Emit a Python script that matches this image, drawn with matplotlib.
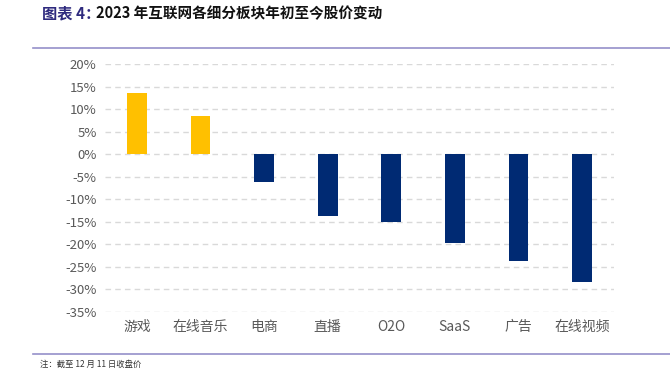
import matplotlib.pyplot as plt
from matplotlib.lines import Line2D

plt.rcParams['font.family'] = ['Noto Sans CJK SC', 'DejaVu Sans']

categories = ['游戏', '在线音乐', '电商', '直播', 'O2O', 'SaaS', '广告', '在线视频']
changes = [13.6, 8.4, -6.2, -13.6, -15.0, -19.6, -23.8, -28.3]
yticks = [20, 15, 10, 5, 0, -5, -10, -15, -20, -25, -30, -35]

colors = ['#FFC000' if v > 0 else '#002A73' for v in changes]

fig = plt.figure(figsize=(6.7, 3.71), dpi=100)
ax = fig.add_axes([105 / 670, 1 - 312 / 371, 509 / 670, 248 / 371])

x = range(len(categories))
ax.bar(x, changes, width=0.31, color=colors, zorder=3)

ax.set_ylim(-35, 20)
ax.set_xlim(-0.5, len(categories) - 0.5)
ax.set_yticks(yticks)
ax.set_yticklabels([f'{t}%' for t in yticks], fontsize=9.5, color='#595959')
ax.set_xticks(list(x))
ax.set_xticklabels(categories, fontsize=10, color='#595959')
ax.tick_params(length=0, pad=6)
ax.yaxis.grid(True, linestyle=(0, (4, 3)), color='#D9D9D9', linewidth=1)
for s in ax.spines.values():
    s.set_visible(False)

# title and frame lines
fig.text(42 / 670, 1 - 13 / 371, '图表 4：', fontsize=11, fontweight='bold',
         color='#2E2A7E', va='center', ha='left')
fig.text(96 / 670, 1 - 13 / 371, '2023 年互联网各细分板块年初至今股价变动', fontsize=10.5,
         fontweight='bold', color='#111111', va='center', ha='left')
fig.add_artist(Line2D([33 / 670, 1], [1 - 48 / 371] * 2, color='#9590C9', linewidth=1.2))
fig.add_artist(Line2D([33 / 670, 1], [1 - 354 / 371] * 2, color='#9590C9', linewidth=1.2))
fig.text(40 / 670, 1 - 364 / 371, '注：截至 12 月 11 日收盘价', fontsize=6, color='#333333',
         va='center', ha='left')

fig.savefig('out.png', dpi=100)
